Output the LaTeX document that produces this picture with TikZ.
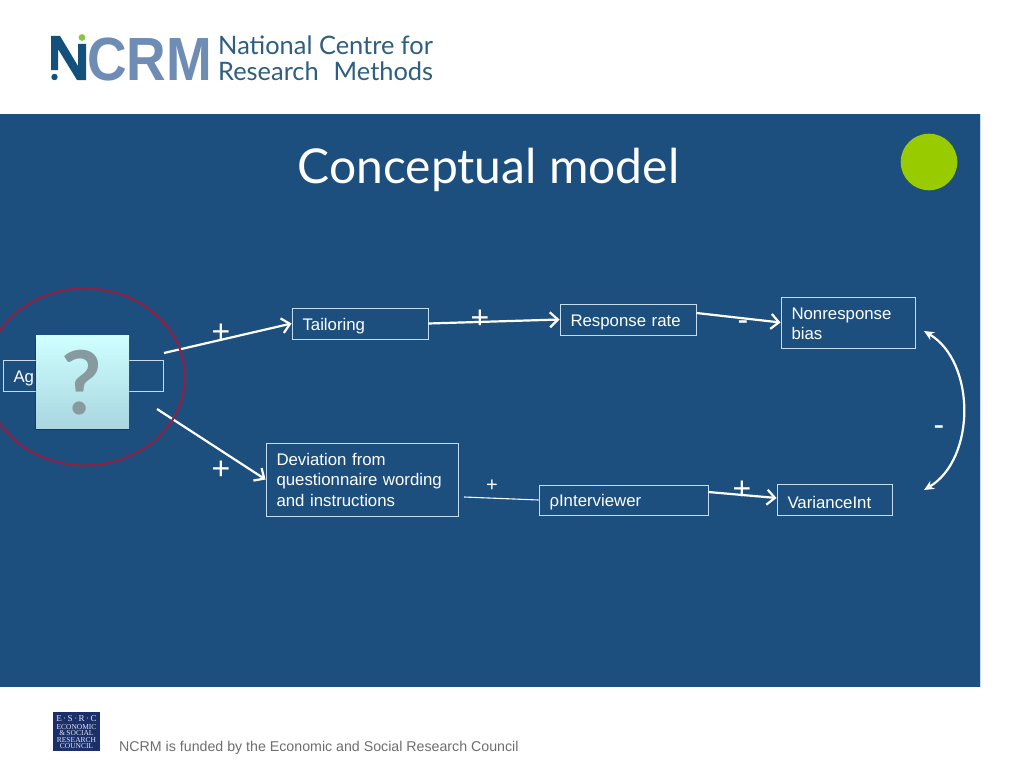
\documentclass[tikz,border=0pt]{standalone}
\usepackage{fontspec}
\setmainfont{Liberation Sans}
\newfontfamily\gillfont{Lato}
\newfontfamily\serifesrc{Liberation Serif}
\usetikzlibrary{arrows.meta,calc}
\definecolor{panelblue}{HTML}{1C4F7E}
\definecolor{boxline}{HTML}{C4DCF2}
\definecolor{logodark}{HTML}{14507C}
\definecolor{logolight}{HTML}{6F8DB4}
\definecolor{logotext}{HTML}{2E5E80}
\definecolor{logogreen}{HTML}{8CC63F}
\definecolor{discgreen}{HTML}{99CC00}
\definecolor{ringred}{HTML}{941F42}
\definecolor{footgrey}{HTML}{6E6E6E}
\definecolor{esrcblue}{HTML}{1B2F6B}
\definecolor{qmark}{HTML}{869AA0}
\definecolor{pictop}{HTML}{CFFFFF}
\definecolor{picbot}{HTML}{A9D6E0}
\newcommand{\lowered}[1]{\raisebox{-2.5pt}[\height][\depth]{#1}}
\newcommand{\loweredb}[1]{\raisebox{-1.5pt}[\height][\depth]{#1}}
\tikzset{
  x=1pt,y=-1pt,
  boxnode/.style={draw=boxline,line width=.9pt,rectangle,inner ysep=0pt,inner xsep=10.5pt,
    align=left,text=white,font=\fontsize{16.8}{20.5}\selectfont,anchor=center},
  conn/.style={draw=white,line width=2.2pt,-{Straight Barb[length=8pt,width=15pt,line width=2.2pt]}},
  thinconn/.style={draw=white!85!boxline,line width=1.1pt},
  bothconn/.style={draw=white,line width=2.2pt,{Stealth[length=10pt,width=9pt]}-{Stealth[length=10pt,width=9pt]}},
  signbig/.style={text=white,font=\fontsize{32}{32}\selectfont,inner sep=0pt},
  signsmall/.style={text=white,font=\fontsize{20}{20}\selectfont,inner sep=0pt},
}
\begin{document}
\begin{tikzpicture}
\useasboundingbox (0,0) rectangle (1024,768);
\fill[white] (0,0) rectangle (1024,768);
% logo
\fill[logodark] (51,36) -- (60,36) -- (78,66) -- (78,44) -- (86,44) -- (86,80) -- (77,80) -- (58,49) -- (58,70) -- (51,70) -- cycle;
\fill[logodark] (54.5,77) circle (3.2);
\fill[logogreen] (82,37.5) circle (3.4);
\node[text=logolight,font=\bfseries\fontsize{61}{61}\selectfont,xscale=.9,inner sep=0pt,anchor=base west] (logocrm) at (87,80) {CRM};
\node[text=logotext,font=\gillfont\fontsize{25.4}{26}\selectfont,inner sep=0pt,align=left,anchor=west] (logoa) at (218,58.5) {National Centre for\\Research\,\, Methods};
% panel
\fill[panelblue] (0,114) rectangle (980,687);
\draw[boxline,line width=.6pt] (980.3,114) -- (980.3,687);
\node[text=white,font=\gillfont\fontsize{48}{48}\selectfont,inner sep=0pt] (title) at (488.5,169.5) {Conceptual model};
\fill[discgreen] (929,162) circle (28.3);
% boxes
\node[boxnode,minimum width=160pt,minimum height=31pt,text width=139pt] (age) at (83,376) {\lowered{Ag}};
\node[boxnode,minimum width=136pt,minimum height=31pt,text width=115pt] (tail) at (360,323.5) {\lowered{Tailoring}};
\node[boxnode,minimum width=136pt,minimum height=31pt,text width=115pt] (resp) at (628,319.5) {\lowered{Response rate}};
\node[boxnode,minimum width=134pt,minimum height=51pt,text width=113pt] (nonr) at (848,322.5) {\loweredb{Nonresponse}\\\loweredb{bias}};
\node[boxnode,minimum width=192pt,minimum height=73pt,text width=171pt] (dev) at (362,479.5) {Deviation from\\questionnaire wording\\and instructions};
\node[boxnode,minimum width=169pt,minimum height=30pt,text width=148pt] (rho) at (623.5,500) {\lowered{ρInterviewer}};
\node[boxnode,minimum width=115pt,minimum height=31pt,text width=94pt] (vari) at (834.5,499.5) {\lowered{VarianceInt}};
% free ends
\coordinate (ageupper) at (164,353);
\coordinate (agelower) at (157,409);
\coordinate (devout) at (464,497);
\coordinate (curvetop) at (924,331);
\coordinate (curvebot) at (924,490);
% connectors
\draw[conn] (ageupper) -- (tail.west);
\draw[conn] (agelower) -- (dev.west);
\draw[conn] (tail.east) -- (resp.west);
\draw[conn] ([yshift=6.5pt]resp.east) -- (nonr.west);
\draw[thinconn] (devout) -- (rho.west);
\draw[conn] ([yshift=8pt]rho.east) -- ([yshift=1.5pt]vari.west);
\draw[bothconn] (curvetop) .. controls (976,362) and (976,459) .. (curvebot);
% signs
\node[signbig] (p1) at (221,333) {+};
\node[signbig] (p2) at (480,319) {+};
\node[signbig] (p3) at (221,470) {+};
\node[signbig] (p4) at (742,490) {+};
\node[signsmall] (p5) at (492,485.5) {+};
\node[signbig] (m1) at (743,326) {-};
\node[signbig] (m2) at (939,431) {-};
% ring
\draw[ringred,line width=2pt] (85,377) ellipse (100 and 88.5);
% placeholder picture
\fill[black,opacity=.22] (35,339) rectangle (130,430);
\shade[top color=pictop,bottom color=picbot] (36,335) rectangle (129,428);
\node[text=qmark,font=\gillfont\bfseries\fontsize{88}{88}\selectfont,inner sep=0pt] (qm) at (82,382.5) {?};
% footer
\fill[esrcblue] (53,712) rectangle (100,751);
\node[text=white!88!esrcblue,font=\serifesrc\fontsize{7.5}{6.4}\selectfont,inner sep=0pt,align=center] (esrc) at (76.5,732) {\fontsize{9}{6.4}\selectfont E\,·\,S\,·\,R\,·\,C\\[1.5pt]ECONOMIC\\\&\,SOCIAL\\RESEARCH\\COUNCIL};
\node[text=footgrey,font=\fontsize{14.2}{14.2}\selectfont,inner sep=0pt,anchor=base west] (foot) at (119,751) {NCRM is funded by the Economic and Social Research Council};
\end{tikzpicture}
\end{document}
